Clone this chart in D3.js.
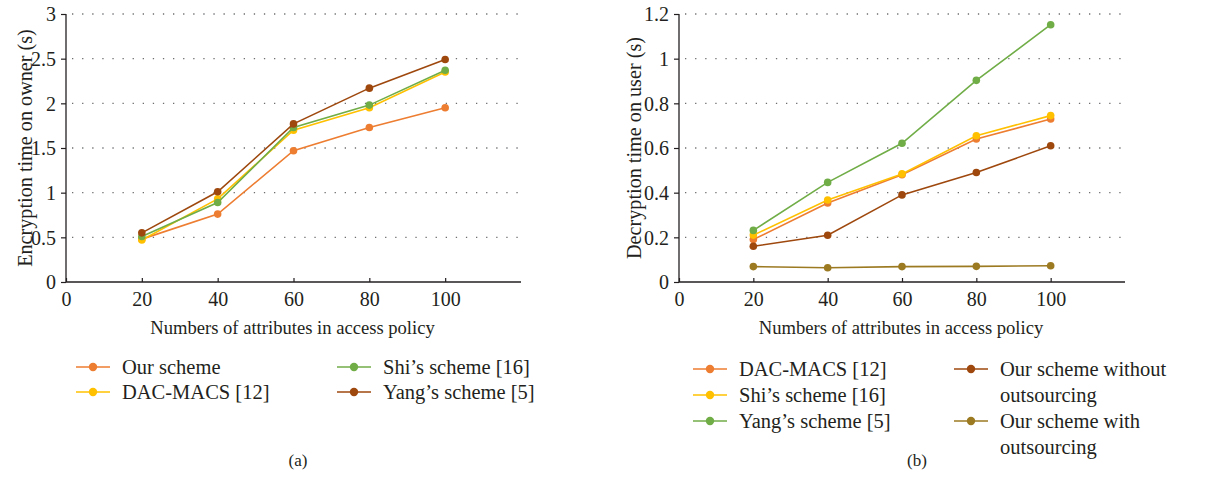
<!DOCTYPE html>
<html>
<head>
<meta charset="utf-8">
<script src="https://cdn.jsdelivr.net/npm/d3@7"></script>
<style>
  body { margin: 0; background: #fff; }
  text { font-family: "Liberation Serif", "DejaVu Serif", serif; fill: #231f20; }
</style>
</head>
<body>
<svg id="chart" width="1213" height="498"></svg>
<script>
// x values shared by both panels
const attrs = [20, 40, 60, 80, 100]
const xTicks = [0, 20, 40, 60, 80, 100]

// panel (a): encryption time on owner
const encOur = [0.48, 0.76, 1.47, 1.73, 1.95]
const encDac = [0.47, 0.93, 1.70, 1.95, 2.35]
const encShi = [0.51, 0.89, 1.73, 1.98, 2.37]
const encYang = [0.55, 1.01, 1.77, 2.17, 2.49]
const encTicks = [0, 0.5, 1, 1.5, 2, 2.5, 3]

// panel (b): decryption time on user
const decDac = [0.19, 0.354, 0.48, 0.64, 0.73]
const decShi = [0.21, 0.367, 0.484, 0.655, 0.745]
const decYang = [0.231, 0.446, 0.621, 0.903, 1.152]
const decNoOut = [0.16, 0.209, 0.39, 0.49, 0.61]
const decOut = [0.069, 0.064, 0.069, 0.07, 0.073]
const decTicks = [0, 0.2, 0.4, 0.6, 0.8, 1, 1.2]

const orange = '#ed7d31', yellow = '#ffc000', green = '#70ad47', brown = '#9e480e', olive = '#9c7a22'

const panelA = {
    left: 66, right: 521, top: 14, bottom: 282, yMax: 3, ticks: encTicks,
    fmt: d => d, ytitle: 'Encryption time on owner (s)', titleX: 25, caption: '(a)', capX: 298,
    series: [
        {name: ['Our scheme'], values: encOur, color: orange, lx: 76, ly: 367},
        {name: ['DAC-MACS [12]'], values: encDac, color: yellow, lx: 76, ly: 392},
        {name: ['Shi\u2019s scheme [16]'], values: encShi, color: green, lx: 337, ly: 367},
        {name: ['Yang\u2019s scheme [5]'], values: encYang, color: brown, lx: 337, ly: 392}
    ]
}
const panelB = {
    left: 679, right: 1125, top: 14, bottom: 282, yMax: 1.2, ticks: decTicks,
    fmt: d => d, ytitle: 'Decryption time on user (s)', titleX: 634, caption: '(b)', capX: 917,
    series: [
        {name: ['DAC-MACS [12]'], values: decDac, color: orange, lx: 693, ly: 369},
        {name: ['Shi\u2019s scheme [16]'], values: decShi, color: yellow, lx: 693, ly: 395},
        {name: ['Yang\u2019s scheme [5]'], values: decYang, color: green, lx: 693, ly: 421},
        {name: ['Our scheme without', 'outsourcing'], values: decNoOut, color: brown, lx: 954, ly: 369},
        {name: ['Our scheme with', 'outsourcing'], values: decOut, color: olive, lx: 954, ly: 421}
    ]
}

const svg = d3.select('#chart')

function drawPanel(p) {
    let x = d3.scaleLinear().domain([0, 120]).range([p.left, p.right])
    let y = d3.scaleLinear().domain([0, p.yMax]).range([p.bottom, p.top])
    let g = svg.append('g')

    //dotted grid lines
    g.selectAll('.grid').data(p.ticks.slice(1)).join('line')
        .attr('x1', p.left + 6).attr('x2', p.right)
        .attr('y1', d => y(d)).attr('y2', d => y(d))
        .attr('stroke', '#6d6e71').attr('stroke-width', 1.3)
        .attr('stroke-dasharray', '1.3,8.8')

    //axes
    let yAxis = g.append('g').attr('transform', `translate(${p.left},0)`)
        .call(d3.axisLeft(y).tickValues(p.ticks).tickFormat(p.fmt).tickSize(5).tickPadding(5))
    let xAxis = g.append('g').attr('transform', `translate(0,${p.bottom})`)
        .call(d3.axisBottom(x).tickValues(xTicks).tickSize(-4).tickPadding(10))
    ;[yAxis, xAxis].forEach(a => {
        a.select('.domain').attr('stroke', '#231f20').attr('stroke-width', 1.3)
        a.selectAll('.tick line').attr('stroke', '#231f20').attr('stroke-width', 1.2)
        a.selectAll('.tick text').attr('font-size', 20).attr('fill', '#231f20')
            .style('font-family', '"Liberation Serif", serif')
    })
    xAxis.select('.domain').attr('d', `M${p.left},0H${p.right}`)
    yAxis.select('.domain').attr('d', `M0,${p.bottom}V${p.top}`)
    xAxis.selectAll('.tick text').attr('dy', '0.71em')
    yAxis.selectAll('.tick text').attr('dy', '0.34em')

    //titles
    g.append('text').attr('x', (p.left + p.right) / 2 - 1).attr('y', 334)
        .attr('text-anchor', 'middle').attr('font-size', 18.6)
        .text('Numbers of attributes in access policy')
    g.append('text').attr('transform', `translate(${p.titleX},${(p.top + p.bottom) / 2}) rotate(-90)`)
        .attr('text-anchor', 'middle').attr('dy', '0.35em').attr('font-size', 20.2)
        .text(p.ytitle)
    g.append('text').attr('x', p.capX).attr('y', 466).attr('text-anchor', 'middle')
        .attr('font-size', 17).text(p.caption)

    //series lines and markers
    let line = d3.line().x((d, i) => x(attrs[i])).y(d => y(d))
    p.series.forEach(s => {
        g.append('path').attr('d', line(s.values)).attr('fill', 'none')
            .attr('stroke', s.color).attr('stroke-width', 1.6)
        g.selectAll(null).data(s.values).join('circle')
            .attr('cx', (d, i) => x(attrs[i])).attr('cy', d => y(d)).attr('r', 3.8)
            .attr('fill', s.color)
    })

    //legend
    p.series.forEach(s => {
        let lg = g.append('g').attr('transform', `translate(${s.lx},${s.ly})`)
        lg.append('line').attr('x1', 0).attr('x2', 34).attr('stroke', s.color).attr('stroke-width', 1.6)
        lg.append('circle').attr('cx', 17).attr('r', 4.2).attr('fill', s.color)
        s.name.forEach((t, i) => {
            lg.append('text').attr('x', 46).attr('y', i * 26).attr('dy', '0.33em')
                .attr('font-size', 20.5).text(t)
        })
    })
}

drawPanel(panelA)
drawPanel(panelB)
</script>
</body>
</html>
